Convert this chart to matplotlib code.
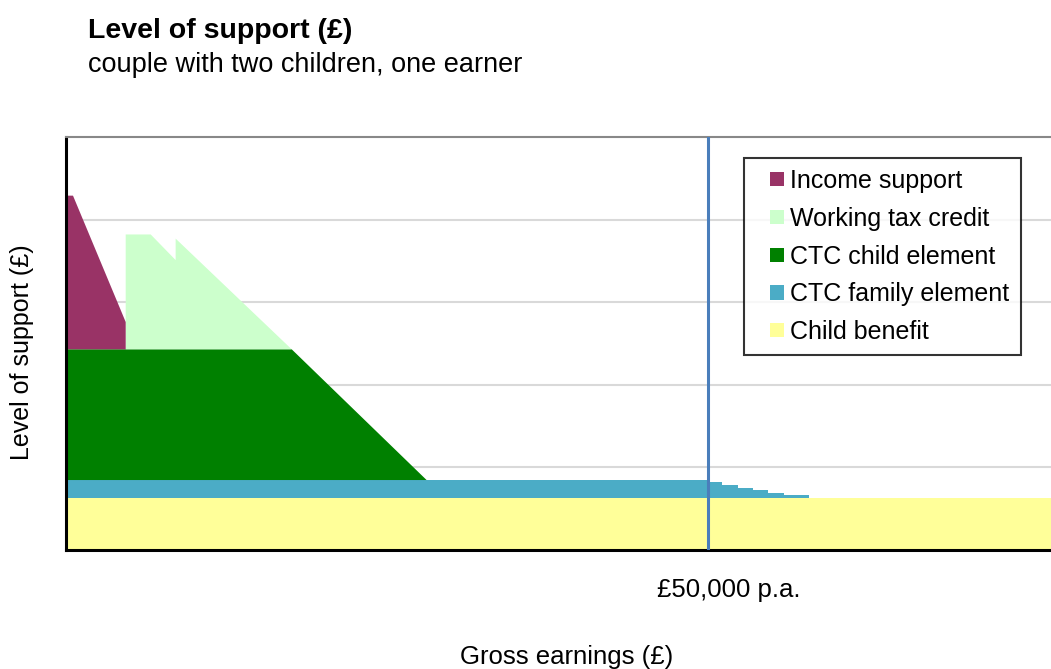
import matplotlib
matplotlib.use("Agg")
import matplotlib.pyplot as plt
from matplotlib.patches import Patch, Rectangle
from matplotlib.legend_handler import HandlerPatch
import numpy as np

plt.rcParams['font.family'] = ['Liberation Sans', 'DejaVu Sans']

# gross earnings (£ p.a.) breakpoints; repeated values give the vertical steps
earnings = [0, 545, 4650, 4650, 6600, 8540, 8540, 17580, 28090, 50000,
            50000, 51070, 51070, 52310, 52310, 53530, 53530, 54690, 54690,
            55920, 55920, 57890, 57890, 80000]

income_support = [1860, 1860, 330, 0, 0, 0, 0, 0, 0, 0,
                  0, 0, 0, 0, 0, 0, 0, 0, 0, 0, 0, 0, 0, 0]
working_tax_credit = [0, 0, 0, 1390, 1390, 1080, 1340, 0, 0, 0,
                      0, 0, 0, 0, 0, 0, 0, 0, 0, 0, 0, 0, 0, 0]
ctc_child = [1583, 1583, 1583, 1583, 1583, 1583, 1583, 1583, 0, 0,
             0, 0, 0, 0, 0, 0, 0, 0, 0, 0, 0, 0, 0, 0]
ctc_family = [214, 214, 214, 214, 214, 214, 214, 214, 214, 214,
              187, 187, 158, 158, 121, 121, 90, 90, 61, 61, 29, 29, 0, 0]
child_benefit = [633] * len(earnings)

labels = ['Income support', 'Working tax credit', 'CTC child element',
          'CTC family element', 'Child benefit']
colors = ['#993366', '#CCFFCC', '#008000', '#4BACC6', '#FFFF99']

W, H = 1051, 669
fig = plt.figure(figsize=(W / 100, H / 100), dpi=100)
ax = fig.add_axes([66 / W, 1 - 550 / H, (1093 - 66) / W, (550 - 137) / H])

ax.stackplot(earnings, child_benefit, ctc_family, ctc_child,
             working_tax_credit, income_support,
             colors=colors[::-1], linewidth=0, zorder=2)

ax.set_xlim(0, 80000)
ax.set_ylim(0, 5000)
ax.set_yticks([1000, 2000, 3000, 4000])
ax.set_xticks([])
ax.tick_params(left=False, labelleft=False)
ax.grid(axis='y', color='#D9D9D9', lw=1.5, zorder=0)

ax.axvline(50000, color='#4A7EBB', lw=2.2, zorder=3)

for s in ['left', 'bottom']:
    ax.spines[s].set_linewidth(2.2)
    ax.spines[s].set_color('black')
ax.spines['top'].set_color('#888888')
ax.spines['top'].set_linewidth(1.5)
ax.spines['right'].set_visible(False)


# small square sitting at the right end of the handle box
def square_handle(legend, orig_handle, xdescent, ydescent, width, height, fontsize):
    s = height
    return Rectangle((width - s - xdescent, -ydescent), s, s)


handles = [Patch(facecolor=c, edgecolor='none') for c in colors]
leg = ax.legend(handles, labels, loc='upper left',
                bbox_to_anchor=(744 / W, 1 - 158 / H),
                bbox_transform=fig.transFigure, fontsize=18,
                frameon=True, fancybox=False, borderaxespad=0,
                handlelength=1.15, handleheight=0.5, handletextpad=0.25,
                labelspacing=0.55, borderpad=0.45,
                handler_map={Patch: HandlerPatch(patch_func=square_handle)})
leg.get_frame().set_edgecolor('black')
leg.get_frame().set_linewidth(1.5)

fig.text(88 / W, 1 - 38 / H, 'Level of support (£)', fontsize=20.5,
         fontweight='bold', ha='left', va='baseline')
fig.text(88 / W, 1 - 72 / H, 'couple with two children, one earner',
         fontsize=19.5, ha='left', va='baseline')
fig.text(22 / W, 1 - 352 / H, 'Level of support (£)', fontsize=18,
         rotation=90, ha='center', va='center')
fig.text(729 / W, 1 - 590 / H, '£50,000 p.a.', fontsize=18.5,
         ha='center', va='center')
fig.text(567 / W, 1 - 657 / H, 'Gross earnings (£)', fontsize=18.5,
         ha='center', va='center')

fig.savefig('out.png', dpi=100)
